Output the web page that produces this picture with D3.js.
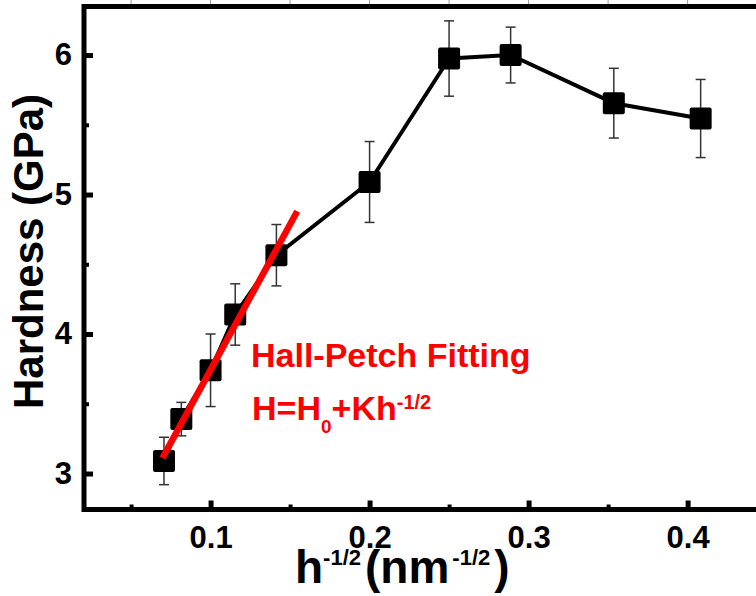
<!DOCTYPE html>
<html>
<head>
<meta charset="utf-8">
<script src="https://cdn.jsdelivr.net/npm/d3@7"></script>
<style>
  html, body { margin: 0; padding: 0; background: #fff; }
  svg { display: block; font-family: Arial, "Liberation Sans", sans-serif; font-weight: bold; }
</style>
</head>
<body>
<script>
// h^-1/2 values (nm^-1/2), hardness (GPa) and error bars
const hInv     = [0.0707, 0.0816, 0.1, 0.1155, 0.1414, 0.2, 0.25, 0.2887, 0.3536, 0.4082];
const hardness = [3.09, 3.39, 3.74, 4.14, 4.565, 5.09, 5.975, 6.0, 5.655, 5.545];
const errors   = [0.17, 0.12, 0.26, 0.22, 0.22, 0.29, 0.27, 0.20, 0.25, 0.28];

// Hall-Petch fit line end points
const fitX = [0.0697, 0.1545];
const fitH = [3.11, 4.88];

const xTicks = [0.1, 0.2, 0.3, 0.4];
const xMinor = [0.05, 0.15, 0.25, 0.35];
const yTicks = [3, 4, 5, 6];
const yMinor = [3.5, 4.5, 5.5];

const width = 756, height = 596;
const plotL = 84, plotT = 6.5, plotR = 759, plotB = 509.5;

const svg = d3.select('body').append('svg')
    .attr('width', width).attr('height', height);

const x = d3.scaleLinear().domain([0.0204, 0.4449]).range([plotL, plotR]);
const y = d3.scaleLinear().domain([2.742, 6.348]).range([plotB, plotT]);

// top ticks (thin, outward)
svg.append('g')
    .selectAll('line')
    .data(xTicks.concat(xMinor))
    .join('line')
    .attr('x1', d => x(d)).attr('x2', d => x(d))
    .attr('y1', 0).attr('y2', plotT)
    .attr('stroke', '#999').attr('stroke-width', 1);

// axes: inward ticks
const xAxis = svg.append('g')
    .attr('transform', `translate(0,${plotB})`)
    .call(d3.axisBottom(x).tickValues(xTicks).tickSize(-9).tickPadding(16).tickFormat(d3.format('.1f')));
const xAxisMinor = svg.append('g')
    .attr('transform', `translate(0,${plotB})`)
    .call(d3.axisBottom(x).tickValues(xMinor).tickSize(-5).tickFormat(''));
const yAxis = svg.append('g')
    .attr('transform', `translate(${plotL},0)`)
    .call(d3.axisLeft(y).tickValues(yTicks).tickSize(-9).tickPadding(12).tickFormat(d3.format('d')));
const yAxisMinor = svg.append('g')
    .attr('transform', `translate(${plotL},0)`)
    .call(d3.axisLeft(y).tickValues(yMinor).tickSize(-5).tickFormat(''));

[xAxis, xAxisMinor, yAxis, yAxisMinor].forEach(function(g) {
    g.select('.domain').remove();
    g.selectAll('line').attr('stroke', '#000').attr('stroke-width', 5);
    g.selectAll('text')
        .attr('fill', '#000')
        .style('font-size', '31px')
        .style('font-weight', 'bold')
        .style('font-family', 'Arial, "Liberation Sans", sans-serif');
});
xAxisMinor.selectAll('line').attr('stroke-width', 4);
yAxisMinor.selectAll('line').attr('stroke-width', 4);

// frame
svg.append('rect')
    .attr('x', plotL).attr('y', plotT)
    .attr('width', plotR - plotL).attr('height', plotB - plotT)
    .attr('fill', 'none').attr('stroke', '#000').attr('stroke-width', 5);

const points = hInv.map((v, i) => ({x: v, h: hardness[i], e: errors[i]}));

// error bars
const eb = svg.append('g').attr('stroke', '#333').attr('stroke-width', 1.5);
eb.selectAll('.stem').data(points).join('line')
    .attr('x1', d => x(d.x)).attr('x2', d => x(d.x))
    .attr('y1', d => y(d.h + d.e)).attr('y2', d => y(d.h - d.e));
eb.selectAll('.capTop').data(points).join('line')
    .attr('x1', d => x(d.x) - 5).attr('x2', d => x(d.x) + 5)
    .attr('y1', d => y(d.h + d.e)).attr('y2', d => y(d.h + d.e));
eb.selectAll('.capBot').data(points).join('line')
    .attr('x1', d => x(d.x) - 5).attr('x2', d => x(d.x) + 5)
    .attr('y1', d => y(d.h - d.e)).attr('y2', d => y(d.h - d.e));

// data line
const line = d3.line().x(d => x(d.x)).y(d => y(d.h));
svg.append('path')
    .datum(points)
    .attr('d', line)
    .attr('fill', 'none')
    .attr('stroke', '#000')
    .attr('stroke-width', 4)
    .attr('stroke-linejoin', 'round');

// markers
const s = 22;
svg.append('g').selectAll('rect').data(points).join('rect')
    .attr('x', d => x(d.x) - s / 2)
    .attr('y', d => y(d.h) - s / 2)
    .attr('width', s).attr('height', s)
    .attr('rx', 2)
    .attr('fill', '#000');

// Hall-Petch fit
svg.append('line')
    .attr('x1', x(fitX[0])).attr('y1', y(fitH[0]))
    .attr('x2', x(fitX[1])).attr('y2', y(fitH[1]))
    .attr('stroke', '#f00')
    .attr('stroke-width', 6.5);

// annotation
svg.append('text')
    .attr('x', 251).attr('y', 366.5)
    .attr('fill', '#f00')
    .style('font-size', '34px')
    .text('Hall-Petch Fitting');

const eq = svg.append('text')
    .attr('x', 252).attr('y', 419.5)
    .attr('fill', '#f00')
    .style('font-size', '34px');
eq.append('tspan').text('H=H');
eq.append('tspan').attr('dy', 13.5).style('font-size', '19px').text('0');
eq.append('tspan').attr('dy', -13.5).text('+Kh');
eq.append('tspan').attr('dy', -10.5).style('font-size', '20px').text('-1/2');

// axis titles
svg.append('text')
    .attr('transform', 'translate(43,251.5) rotate(-90)')
    .attr('text-anchor', 'middle')
    .style('font-size', '42px')
    .text('Hardness (GPa)');

const xt = svg.append('text')
    .attr('x', 295).attr('y', 583)
    .style('font-size', '46px');
xt.append('tspan').text('h');
xt.append('tspan').attr('dy', -18).style('font-size', '22px').text('-1/2');
xt.append('tspan').attr('dy', 18).attr('dx', 4).text('(nm');
xt.append('tspan').attr('dy', -18).attr('dx', 3).style('font-size', '22px').text('-1/2');
xt.append('tspan').attr('dy', 18).attr('dx', 4).text(')');
</script>
</body>
</html>
